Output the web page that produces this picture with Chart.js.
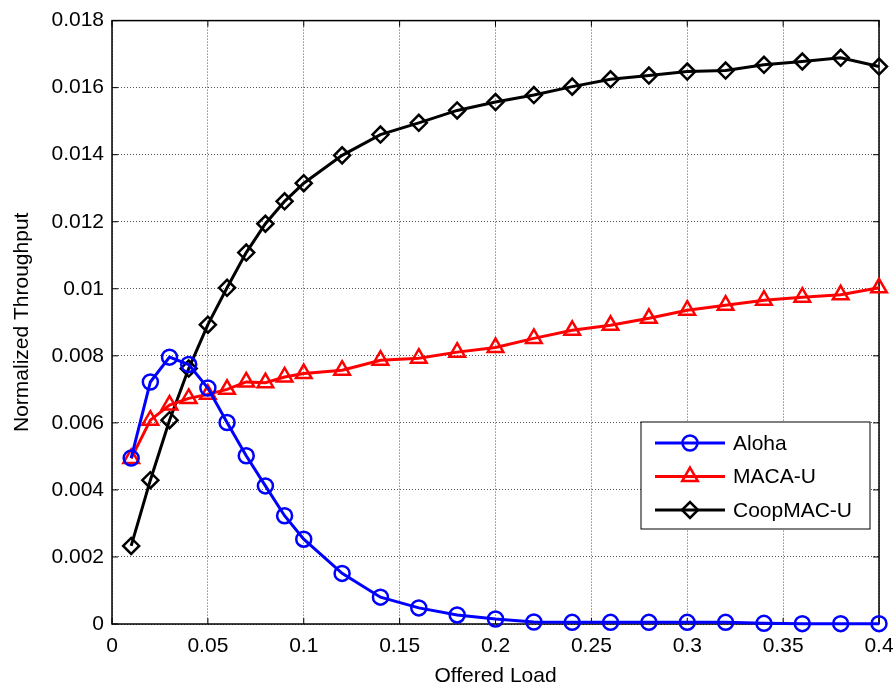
<!DOCTYPE html>
<html>
<head>
<meta charset="utf-8">
<script src="https://cdn.jsdelivr.net/npm/chart.js@4/dist/chart.umd.min.js"></script>
<style>
  html, body { margin: 0; padding: 0; background: #fff; }
  #wrap { width: 893px; height: 689px; }
</style>
</head>
<body>
<div id="wrap"><canvas id="chart" width="893" height="689"></canvas></div>
<script>
const offeredLoad = [0.01, 0.02, 0.03, 0.04, 0.05, 0.06, 0.07, 0.08, 0.09, 0.1,
  0.12, 0.14, 0.16, 0.18, 0.2, 0.22, 0.24, 0.26, 0.28, 0.3, 0.32, 0.34, 0.36, 0.38, 0.4];
const aloha = [0.00495, 0.00722, 0.00796, 0.00774, 0.00704, 0.00601, 0.00502, 0.00412, 0.00323, 0.00253,
  0.00151, 0.00080, 0.00048, 0.00027, 0.00015, 0.00006, 0.00005, 0.00005, 0.00005, 0.00005,
  0.00005, 0.00002, 0.00001, 0.00001, 0.00001];
const macaU = [0.00494, 0.00608, 0.00653, 0.00673, 0.00685, 0.00700, 0.00722, 0.00720, 0.00737, 0.00747,
  0.00757, 0.00787, 0.00793, 0.00811, 0.00825, 0.00852, 0.00876, 0.00891, 0.00912, 0.00936,
  0.00951, 0.00966, 0.00975, 0.00982, 0.01003];
const coopMacU = [0.00233, 0.00429, 0.00608, 0.00762, 0.00893, 0.01003, 0.01108, 0.01194, 0.01261, 0.01315,
  0.01398, 0.01460, 0.01495, 0.01532, 0.01557, 0.01578, 0.01603, 0.01625, 0.01636, 0.01648,
  0.01651, 0.01668, 0.01678, 0.01689, 0.01663];
const seriesNames = ['Aloha', 'MACA-U', 'CoopMAC-U'];
const xTitle = 'Offered Load';
const yTitle = 'Normalized Throughput';

const FONT = 'Liberation Sans, Arial, sans-serif';

function pts(ys) {
  return offeredLoad.map((x, i) => ({ x: x, y: ys[i] }));
}

function series(label, ys, color, shape, radius) {
  return {
    label: label,
    data: pts(ys),
    borderColor: color,
    borderWidth: 3,
    pointStyle: shape,
    pointRadius: radius,
    pointHoverRadius: radius,
    pointBorderColor: color,
    pointBackgroundColor: 'rgba(0,0,0,0)',
    pointBorderWidth: 2.5,
    tension: 0,
    clip: false
  };
}

// matlab style box with inward ticks
const boxPlugin = {
  id: 'box',
  beforeDatasetsDraw(chart) {
    const ctx = chart.ctx;
    const a = chart.chartArea;
    const xs = chart.scales.x, ys = chart.scales.y;
    ctx.save();
    ctx.strokeStyle = '#000';
    ctx.lineWidth = 1.5;
    ctx.strokeRect(a.left, a.top, a.right - a.left, a.bottom - a.top);
    ctx.lineWidth = 1;
    ctx.beginPath();
    xs.ticks.forEach(t => {
      const px = xs.getPixelForValue(t.value);
      ctx.moveTo(px, a.bottom); ctx.lineTo(px, a.bottom - 6);
      ctx.moveTo(px, a.top); ctx.lineTo(px, a.top + 6);
    });
    ys.ticks.forEach(t => {
      const py = ys.getPixelForValue(t.value);
      ctx.moveTo(a.left, py); ctx.lineTo(a.left + 6, py);
      ctx.moveTo(a.right, py); ctx.lineTo(a.right - 6, py);
    });
    ctx.stroke();
    ctx.restore();
  }
};

// legend drawn inside the axes, lower right
const insideLegend = {
  id: 'insideLegend',
  afterDraw(chart) {
    const ctx = chart.ctx;
    const a = chart.chartArea;
    const w = 229, h = 107;
    const x0 = a.right - 9 - w, y0 = a.bottom - 95 - h;
    ctx.save();
    ctx.fillStyle = '#fff';
    ctx.fillRect(x0, y0, w, h);
    ctx.strokeStyle = '#000';
    ctx.lineWidth = 1;
    ctx.strokeRect(x0, y0, w, h);
    ctx.font = '21px ' + FONT;
    ctx.textBaseline = 'middle';
    chart.data.datasets.forEach((ds, i) => {
      const cy = y0 + 21 + i * 33.5;
      ctx.strokeStyle = ds.borderColor;
      ctx.lineWidth = 3;
      ctx.beginPath();
      ctx.moveTo(x0 + 14, cy);
      ctx.lineTo(x0 + 84, cy);
      ctx.stroke();
      ctx.fillStyle = 'rgba(0,0,0,0)';
      ctx.lineWidth = 2.5;
      Chart.helpers.drawPoint(ctx, {
        pointStyle: ds.pointStyle,
        radius: ds.pointRadius,
        borderWidth: 2.5,
        rotation: 0
      }, x0 + 49, cy);
      ctx.fillStyle = '#000';
      ctx.fillText(ds.label, x0 + 92, cy + 1);
    });
    ctx.restore();
  }
};

const ctx = document.getElementById('chart').getContext('2d');
new Chart(ctx, {
  type: 'line',
  data: {
    datasets: [
      series(seriesNames[0], aloha, '#0000ff', 'circle', 7.5),
      series(seriesNames[1], macaU, '#ff0000', 'triangle', 9),
      series(seriesNames[2], coopMacU, '#000000', 'rectRot', 8)
    ]
  },
  options: {
    responsive: false,
    animation: false,
    layout: { padding: { top: 20, right: 14, bottom: 0, left: 0 } },
    plugins: {
      legend: { display: false },
      tooltip: { enabled: false }
    },
    scales: {
      x: {
        type: 'linear',
        min: 0,
        max: 0.4,
        afterFit(s) { s.height = 65; s.paddingLeft = 0; s.paddingRight = 0; },
        ticks: {
          stepSize: 0.05,
          autoSkip: false,
          maxRotation: 0,
          padding: 10,
          color: '#000',
          font: { family: FONT, size: 21 },
          callback: v => String(Number(v.toFixed(2)))
        },
        grid: { color: '#555', lineWidth: 1, drawTicks: false },
        border: { display: false, dash: [1, 2] },
        title: {
          display: true,
          text: xTitle,
          color: '#000',
          font: { family: FONT, size: 21 },
          padding: { top: 0, bottom: 0 }
        }
      },
      y: {
        type: 'linear',
        min: 0,
        max: 0.018,
        afterFit(s) { s.width = 112; },
        ticks: {
          stepSize: 0.002,
          padding: 8,
          color: '#000',
          font: { family: FONT, size: 21 },
          callback: v => String(Number(v.toFixed(3)))
        },
        grid: { color: '#555', lineWidth: 1, drawTicks: false },
        border: { display: false, dash: [1, 2] },
        title: {
          display: true,
          text: yTitle,
          color: '#000',
          font: { family: FONT, size: 21 },
          padding: { top: 10, bottom: 0 }
        }
      }
    }
  },
  plugins: [boxPlugin, insideLegend]
});
</script>
</body>
</html>
